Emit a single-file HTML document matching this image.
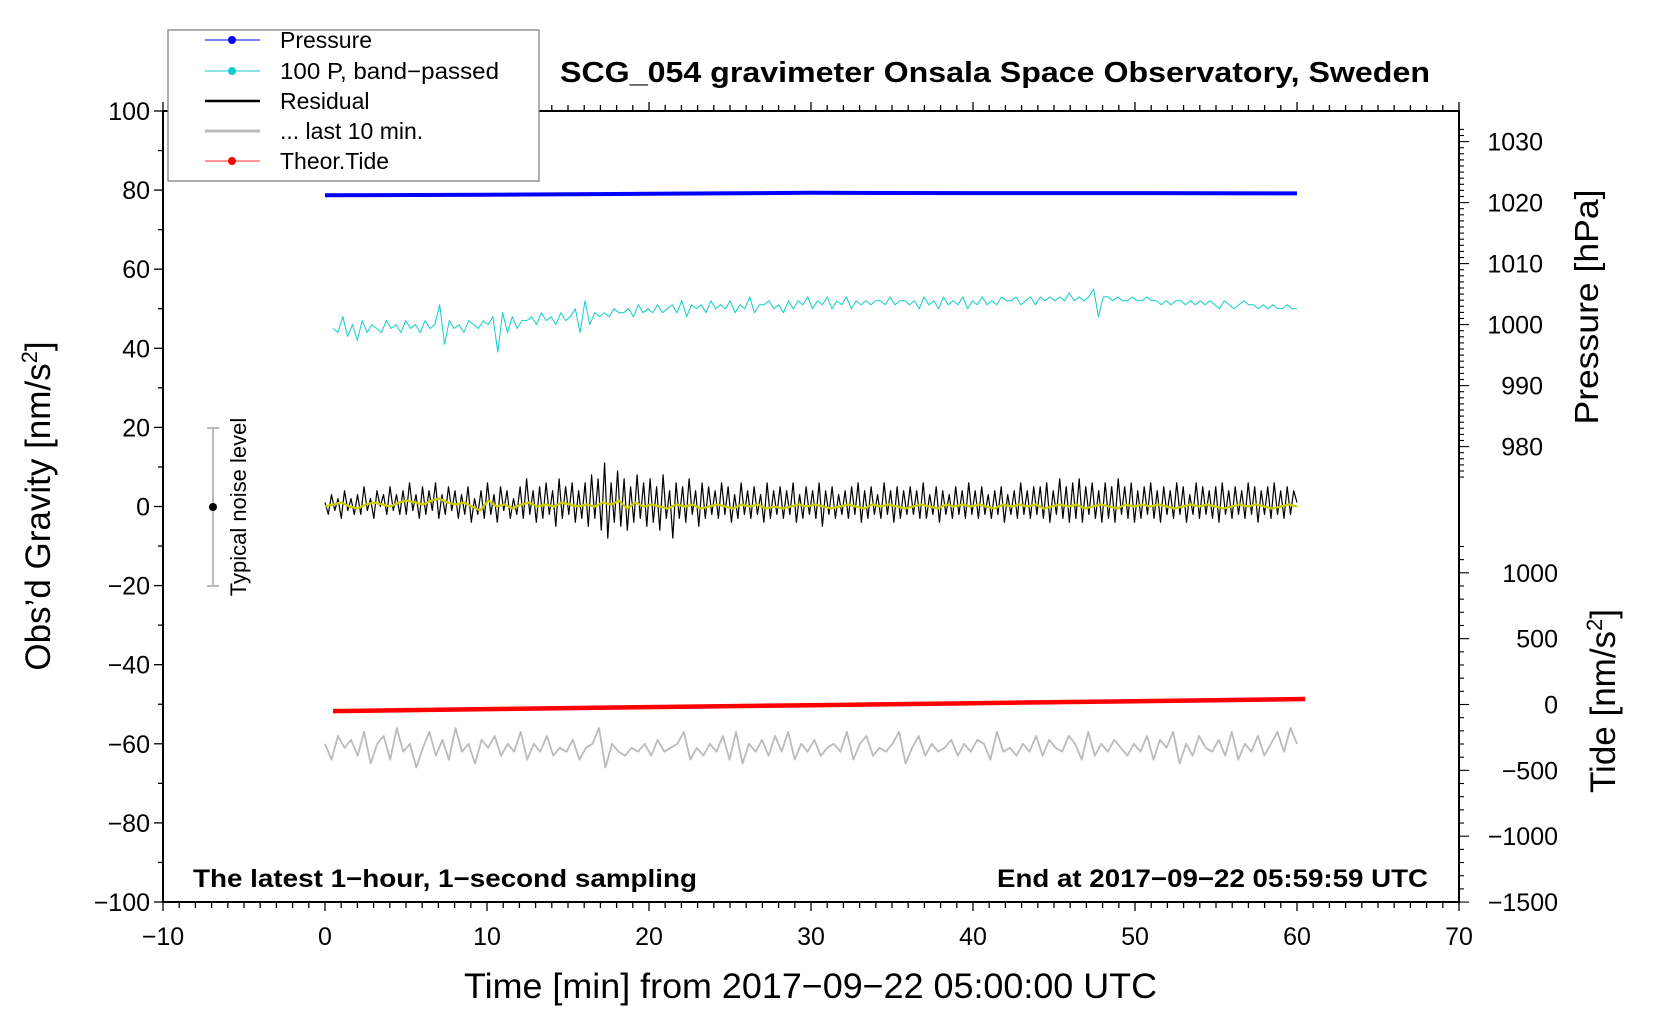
<!DOCTYPE html>
<html><head><meta charset="utf-8">
<style>
html,body{margin:0;padding:0;background:#fff;}
svg{display:block;font-family:"Liberation Sans",Arial,sans-serif;}
</style></head>
<body>
<svg id="chart" width="1660" height="1020" viewBox="0 0 1660 1020" xmlns="http://www.w3.org/2000/svg">
<rect x="0" y="0" width="1660" height="1020" fill="#fff"/>
<g id="ticks"></g>
<g id="series"></g>
<rect x="163" y="111" width="1296" height="791" fill="none" stroke="#000" stroke-width="2"/>
<text x="560" y="82" font-size="29" font-weight="bold" textLength="870" lengthAdjust="spacingAndGlyphs">SCG_054 gravimeter Onsala Space Observatory, Sweden</text>
<text x="193" y="887" font-size="25" font-weight="bold" textLength="504" lengthAdjust="spacingAndGlyphs">The latest 1−hour, 1−second sampling</text>
<text x="997" y="887" font-size="25" font-weight="bold" textLength="431" lengthAdjust="spacingAndGlyphs">End at 2017−09−22 05:59:59 UTC</text>
<text font-size="35" text-anchor="middle" transform="translate(50 506) rotate(-90)">Obs’d Gravity [nm/s<tspan font-size="22" dy="-13">2</tspan><tspan dy="13">]</tspan></text>
<text x="464" y="998" font-size="35" textLength="693" lengthAdjust="spacingAndGlyphs">Time [min] from 2017−09−22 05:00:00 UTC</text>
<text font-size="33" text-anchor="middle" textLength="235" lengthAdjust="spacingAndGlyphs" transform="translate(1598 307) rotate(-90)">Pressure [hPa]</text>
<text font-size="35" text-anchor="middle" transform="translate(1615 701) rotate(-90)">Tide [nm/s<tspan font-size="22" dy="-13">2</tspan><tspan dy="13">]</tspan></text>
<g>
<line x1="213" y1="428" x2="213" y2="586" stroke="#bbb" stroke-width="2"/>
<line x1="207" y1="428" x2="219" y2="428" stroke="#bbb" stroke-width="2"/>
<line x1="207" y1="586" x2="219" y2="586" stroke="#bbb" stroke-width="2"/>
<circle cx="213" cy="507" r="4" fill="#000"/>
<text font-size="22" text-anchor="middle" transform="translate(246 507) rotate(-90)">Typical noise level</text>
</g>
<g>
<rect x="168" y="30" width="371" height="151" fill="#fff" stroke="#777" stroke-width="1.2"/>
<g><line x1="205" y1="40" x2="260" y2="40" stroke="#00f" stroke-width="1"/><circle cx="232" cy="40" r="4" fill="#00f"/><text x="280" y="48" font-size="23">Pressure</text></g>
<g><line x1="205" y1="71" x2="260" y2="71" stroke="#1cc" stroke-width="1"/><circle cx="232" cy="71" r="4" fill="#1cc"/><text x="280" y="79" font-size="23" textLength="219" lengthAdjust="spacingAndGlyphs">100 P, band−passed</text></g>
<g><line x1="205" y1="101" x2="260" y2="101" stroke="#000" stroke-width="2.5"/><text x="280" y="109" font-size="23">Residual</text></g>
<g><line x1="205" y1="131" x2="260" y2="131" stroke="#bbb" stroke-width="3"/><text x="280" y="139" font-size="23">... last 10 min.</text></g>
<g><line x1="205" y1="161" x2="260" y2="161" stroke="#f33" stroke-width="1"/><circle cx="232" cy="161" r="4" fill="#f00"/><text x="280" y="169" font-size="23">Theor.Tide</text></g>
</g>
</svg>
<script>
const xTicks=[-10,0,10,20,30,40,50,60,70];
const yTicks=[100,80,60,40,20,0,-20,-40,-60,-80,-100];
const pTicks=[1030,1020,1010,1000,990,980];
const tTicks=[1000,500,0,-500,-1000,-1500];
const pressureT=[0,10,20,30,40,50,60];
const pressureV=[1021.2,1021.3,1021.45,1021.6,1021.55,1021.55,1021.5];
const tideT=[0.5,10,20,30,40,50,60.5];
const tideV=[-50,-35,-20,-5,10,25,42];
const cyanV=[45,44,48,43,46,42,47,44,46,45,44,47,45,46,44,47,45,46,44,47,45,46,51,41,47,45,46,44,47,46,45,47,46,48,39,49,44,48,45,47,47,48,46,49,47,48,46,49,47,48,50,44,52,46,49,48,49,48,50,49,49,50,48,51,49,50,49,51,49,50,51,49,52,48,51,50,51,49,52,50,51,50,52,49,51,50,53,49,51,51,52,50,51,49,52,50,52,51,53,50,52,51,53,50,52,51,53,50,52,51,52,51,52,52,51,53,51,52,52,51,52,50,53,51,52,50,53,51,52,51,53,50,52,51,53,51,52,51,53,52,52,53,51,52,53,51,53,52,53,52,53,52,54,52,53,52,53,55,48,53,53,52,53,52,52,53,52,52,53,52,52,51,52,51,52,52,51,52,51,52,51,52,51,50,52,51,50,51,52,51,51,50,51,50,51,50,50,51,50,50];
const residualV=[1,-2,3,-1,2,-3,4,-1,2,-2,3,-2,5,-1,2,-3,4,0,3,-2,5,-1,3,-2,4,-2,6,-1,3,-3,5,-2,4,-1,6,-3,3,-2,5,-1,4,-3,3,-2,5,-4,2,-2,4,-3,6,-2,3,-4,5,-1,4,-3,2,-2,5,-3,7,-2,4,-4,5,-3,6,-2,4,-5,7,-3,5,-2,6,-4,4,-3,6,-5,8,-3,7,-6,11,-8,6,-4,9,-5,7,-6,5,-4,8,-3,6,-5,7,-4,5,-6,8,-3,4,-8,6,-3,5,-4,7,-2,4,-5,6,-3,5,-2,4,-3,6,-2,5,-4,3,-3,6,-2,4,-3,5,-2,3,-4,6,-3,4,-2,5,-3,4,-2,6,-4,3,-3,5,-2,4,-3,6,-5,4,-2,5,-3,3,-2,4,-3,5,-2,6,-4,4,-3,5,-2,3,-3,6,-2,4,-4,5,-3,4,-2,5,-2,4,-3,6,-3,3,-2,5,-4,4,-2,3,-3,5,-2,4,-3,6,-2,4,-3,5,-2,3,-3,4,-2,5,-4,3,-2,4,-3,6,-2,4,-3,5,-2,5,-3,6,-4,4,-2,7,-3,5,-4,6,-3,7,-4,5,-2,6,-3,4,-4,6,-3,5,-4,7,-2,5,-3,6,-4,4,-3,5,-2,6,-3,4,-4,5,-2,4,-3,6,-2,5,-4,3,-2,6,-3,5,-2,4,-3,5,-4,6,-2,4,-3,5,-2,4,-3,6,-2,5,-4,4,-2,5,-3,6,-2,4,-3,5,-2,4,1];
const smoothV=[0,0.5,1,0,-0.5,0.5,1,0.5,0,1,1.5,1,0.5,1.5,2,1,0.5,1,0,-1,1.5,0,0.5,-0.5,0.5,1,0,0.5,0,1,0.5,0,0.5,0,1,0.5,1.5,-0.5,1,0,0.5,0,-0.5,0.5,0,0.5,-0.5,0,0.5,0,-0.5,0.5,0,0.5,-0.5,0,-0.5,0,0.5,0,0.5,0,-0.5,0,0.5,0,-0.5,0.5,0,0.5,0,-0.5,0,0.5,0,-0.5,0.5,0,0.5,0,0.5,0,-0.5,0.5,0,0.5,0,0.5,-0.5,0,0.5,0,0.5,-0.5,0,0.5,0,-0.5,0.5,0,0.5,0,0.5,0,-0.5,0,0.5,0,0.5,0,-0.5,0,0.5,0,0.5,0,-0.5,0,0.5,0];
const grayV=[-60,-64,-58,-61,-59,-63,-57,-65,-60,-58,-64,-56,-62,-60,-66,-61,-57,-63,-59,-64,-56,-62,-60,-65,-59,-61,-58,-63,-60,-62,-57,-64,-60,-62,-58,-63,-61,-62,-59,-64,-61,-60,-56,-66,-60,-62,-63,-61,-62,-60,-63,-59,-62,-61,-60,-57,-64,-61,-63,-60,-62,-58,-64,-57,-65,-60,-62,-59,-63,-58,-62,-57,-64,-60,-62,-59,-63,-61,-60,-62,-57,-64,-60,-58,-63,-61,-62,-60,-57,-65,-61,-58,-63,-60,-62,-61,-59,-63,-60,-62,-59,-60,-64,-57,-62,-61,-63,-60,-62,-58,-63,-59,-61,-62,-58,-60,-64,-57,-63,-60,-62,-59,-61,-63,-60,-62,-58,-64,-59,-61,-57,-65,-60,-63,-58,-61,-62,-59,-63,-57,-64,-60,-62,-58,-63,-60,-57,-62,-56,-60];

const NS='http://www.w3.org/2000/svg';
const X=t=>163+(t+10)*16.2;
const Y=g=>111+(100-g)*3.955;
const P=p=>141.6+(1030-p)*6.1;
const T=v=>704.5-v*0.1317;
const tk=document.getElementById('ticks');
const sg=document.getElementById('series');
function el(tag,attrs,parent){const e=document.createElementNS(NS,tag);for(const k in attrs)e.setAttribute(k,attrs[k]);parent.appendChild(e);return e;}
function txt(s,attrs,parent){const e=el('text',attrs,parent);e.textContent=s;return e;}

for(let t=-10;t<=70;t++){const x=X(t),L=t%10===0?9:6;
 const a=el('line',{x1:x,y1:902,x2:x,y2:902+L,stroke:'#000','stroke-width':1.3},tk);
 
 
 const b=el('line',{x1:x,y1:111,x2:x,y2:111-L,stroke:'#000','stroke-width':1.3},tk);
 
 }
for(let g=-100;g<=100;g+=10){const y=Y(g),L=g%20===0?9:5;
 const a=el('line',{x1:163,y1:y,x2:163-L,y2:y,stroke:'#000','stroke-width':1.3},tk);
 
 }
for(let p=975;p<=1032;p++){const y=P(p),L=p%10===0?10:5;
 const a=el('line',{x1:1459,y1:y,x2:1459+L,y2:y,stroke:'#000','stroke-width':1.1},tk);
 
 }
for(let v=-1500;v<=1200;v+=100){const y=T(v),L=v%500===0?10:5;
 const a=el('line',{x1:1459,y1:y,x2:1459+L,y2:y,stroke:'#000','stroke-width':1.1},tk);
 
 }
xTicks.forEach(t=>{const e=txt(String(t).replace('-','−'),{x:X(t),y:945,'font-size':25,'text-anchor':'middle'},tk);
 
 });
yTicks.forEach(g=>{const e=txt(String(g).replace('-','−'),{x:150,y:Y(g)+9,'font-size':25,'text-anchor':'end'},tk);
 
 });
pTicks.forEach(p=>{const e=txt(String(p),{x:1543,y:P(p)+9,'font-size':25,'text-anchor':'end'},tk);
 
 });
tTicks.forEach(v=>{const e=txt(String(v).replace('-','−'),{x:1558,y:T(v)+9,'font-size':25,'text-anchor':'end'},tk);
 
 });

function poly(pts,stroke,w,name){const e=el('polyline',{points:pts.map(p=>p[0].toFixed(1)+','+p[1].toFixed(1)).join(' '),fill:'none',stroke:stroke,'stroke-width':w,'stroke-linejoin':'round'},sg);
 
 
 return e;}
function spread(arr,t0,t1){const n=arr.length;return arr.map((v,i)=>[t0+i*(t1-t0)/(n-1),v]);}

poly(spread(grayV,0,60).map(d=>[X(d[0]),Y(d[1])]),'#bbb',1.8,'last-10-min-line');
poly(spread(cyanV,0.5,60).map(d=>[X(d[0]),Y(d[1])]),'#1cc',1,'bandpassed-pressure-line');
poly(spread(residualV,0,60).map(d=>[X(d[0]),Y(d[1])]),'#000',1.2,'residual-line');
poly(spread(smoothV,0,60).map(d=>[X(d[0]),Y(d[1])]),'#cc0',2.2,'residual-smoothed-line');
poly(pressureT.map((t,i)=>[X(t),P(pressureV[i])]),'#00f',4,'pressure-line');
poly(tideT.map((t,i)=>[X(t),T(tideV[i])]),'#f00',4.5,'theor-tide-line');
</script>
</body></html>
